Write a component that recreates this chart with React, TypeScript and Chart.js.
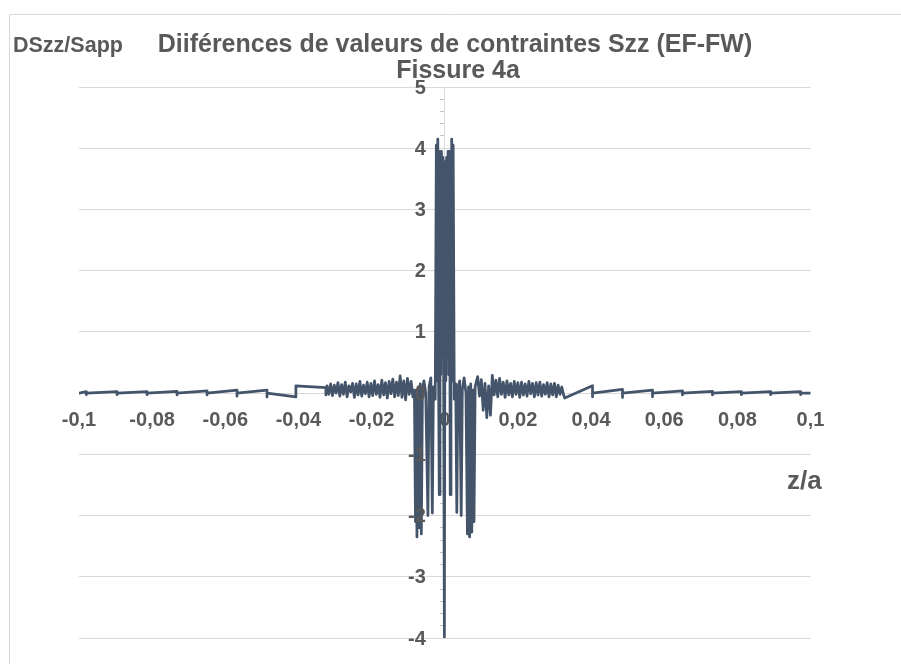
import React, { useEffect, useRef } from 'react';
import { Chart, registerables } from 'chart.js';

Chart.register(...registerables);

// ---- Data (z/a, DSzz/Sapp) ----
const leftTailZ = [-0.1, -0.098, -0.098, -0.098, -0.0896, -0.0896, -0.0896, -0.0814, -0.0814, -0.0814, -0.0732, -0.0732, -0.0732, -0.065, -0.065, -0.065, -0.0568, -0.0568, -0.0568, -0.0486, -0.0486, -0.0486, -0.0407, -0.0407, -0.0325, -0.0325];
const leftTailV = [0, 0.025, -0.025, 0, 0.025, -0.025, 0, 0.025, -0.025, 0, 0.03, -0.03, 0, 0.035, -0.03, 0, 0.05, -0.05, 0, 0.05, -0.065, 0, -0.06, 0.12, 0.09, -0.03];

const leftNoiseZ = [-0.0322, -0.0317, -0.0312, -0.0307, -0.0302, -0.0297, -0.0292, -0.0287, -0.0282, -0.0277, -0.0272, -0.0267, -0.0262, -0.0257, -0.0252, -0.0247, -0.0242, -0.0237, -0.0232, -0.0227, -0.0222, -0.0217, -0.0212, -0.0207, -0.0202, -0.0197, -0.0192, -0.0187, -0.0182, -0.0177, -0.0172, -0.0167, -0.0162, -0.0157, -0.0152, -0.0147, -0.0142, -0.0137, -0.0132, -0.0127, -0.0122, -0.0117, -0.0112, -0.0107, -0.0102, -0.0097, -0.0092, -0.0087];
const leftNoiseV = [0.12, -0.02, 0.15, -0.04, 0.13, 0.0, 0.17, -0.05, 0.14, -0.02, 0.18, -0.06, 0.12, 0.02, 0.16, -0.07, 0.15, -0.03, 0.19, -0.05, 0.13, -0.01, 0.18, -0.06, 0.16, -0.04, 0.2, -0.02, 0.14, -0.07, 0.21, -0.03, 0.17, -0.08, 0.19, -0.01, 0.23, -0.06, 0.18, -0.04, 0.28, -0.07, 0.2, -0.11, 0.24, -0.02, 0.19, -0.06];

const coreZ = [-0.0083, -0.008, -0.0078, -0.0076, -0.0073, -0.007, -0.0067, -0.0064, -0.0061, -0.0057, -0.0052, -0.0046, -0.0043, -0.0038, -0.0034, -0.0031, -0.0026, -0.0023, -0.0021, -0.0019, -0.0017, -0.0015, -0.0013, -0.0011, -0.0009, -0.0007, -0.0005, -0.0003, -0.0001, 0.0001, 0.0003, 0.0005, 0.0007, 0.0009, 0.0011, 0.0013, 0.0015, 0.0017, 0.0019, 0.0021, 0.0023, 0.0026, 0.003, 0.0033, 0.0036, 0.0041, 0.0045, 0.0048, 0.0053, 0.0058, 0.0062, 0.0065, 0.0068, 0.0071, 0.0074, 0.0077, 0.008, 0.0083, 0.0087];
const coreV = [0.05, -2.1, 0.05, -2.35, 0.1, -2.2, 0.15, -2.3, 0.05, 0.2, 0.0, -2.0, 0.1, 0.25, -1.96, 0.1, -0.1, 4.05, 0.2, 4.15, 0.4, -1.66, 3.95, 0.3, 3.95, 0.6, 3.85, 0.2, -4.0, 3.78, 0.2, 3.85, 0.6, 3.95, 0.3, 3.95, -1.66, 0.4, 4.15, 0.2, 4.05, -0.1, 0.15, -1.95, 0.1, 0.2, -2.0, 0.05, 0.25, 0.0, -2.3, 0.1, -2.35, 0.15, -2.27, 0.05, -2.1, 0.1, 0.2];

const rightNoiseZ = [0.009, 0.0095, 0.01, 0.0105, 0.011, 0.0115, 0.012, 0.0125, 0.013, 0.0135, 0.014, 0.0145, 0.015, 0.0155, 0.016, 0.0165, 0.017, 0.0175, 0.018, 0.0185, 0.019, 0.0195, 0.02, 0.0205, 0.021, 0.0215, 0.022, 0.0225, 0.023, 0.0235, 0.024, 0.0245, 0.025, 0.0255, 0.026, 0.0265, 0.027, 0.0275, 0.028, 0.0285, 0.029, 0.0295, 0.03, 0.0305, 0.031, 0.0315, 0.032, 0.0325, 0.0328];
const rightNoiseV = [0.27, -0.05, 0.22, -0.28, 0.16, -0.4, 0.12, -0.36, 0.29, -0.03, 0.21, -0.06, 0.24, -0.02, 0.18, -0.07, 0.2, -0.03, 0.16, -0.06, 0.19, -0.02, 0.17, -0.07, 0.18, -0.03, 0.15, -0.05, 0.19, -0.01, 0.16, -0.06, 0.17, -0.03, 0.18, -0.05, 0.14, -0.02, 0.17, -0.06, 0.15, -0.03, 0.16, -0.06, 0.13, -0.02, 0.1, -0.03, -0.08];

const rightTailZ = [0.0404, 0.0404, 0.0404, 0.0486, 0.0486, 0.0486, 0.0568, 0.0568, 0.0568, 0.065, 0.065, 0.065, 0.0732, 0.0732, 0.0732, 0.0811, 0.0811, 0.0811, 0.0891, 0.0891, 0.0891, 0.0973, 0.0973, 0.0973, 0.1];
const rightTailV = [0.12, -0.06, 0, 0.06, -0.07, 0, 0.05, -0.06, 0, 0.035, -0.03, 0, 0.03, -0.03, 0, 0.025, -0.025, 0, 0.025, -0.025, 0, 0.025, -0.025, 0, 0];

const xTickValues = [-0.1, -0.08, -0.06, -0.04, -0.02, 0, 0.02, 0.04, 0.06, 0.08, 0.1];
const xTickLabels = ['-0,1', '-0,08', '-0,06', '-0,04', '-0,02', '0', '0,02', '0,04', '0,06', '0,08', '0,1'];
const yTickValues = [-4, -3, -2, -1, 0, 1, 2, 3, 4, 5];
const yTickLabels = ['-4', '-3', '-2', '-1', '0', '1', '2', '3', '4', '5'];

const titleLines = ['Diiférences de valeurs de contraintes Szz (EF-FW)', 'Fissure 4a'];
const yAxisTitle = 'DSzz/Sapp';
const xAxisTitle = 'z/a';

const FONT = '"Liberation Sans", Arial, Helvetica, sans-serif';
const TEXT = '#595959';
const LINE = '#44546A';
const GRID = '#d9d9d9';

const allZ = [...leftTailZ, ...leftNoiseZ, ...coreZ, ...rightNoiseZ, ...rightTailZ];
const allV = [...leftTailV, ...leftNoiseV, ...coreV, ...rightNoiseV, ...rightTailV];

const isMajor = (v: number) => yTickValues.some((t) => Math.abs(t - v) < 1e-6);

const decorPlugin = {
  id: 'decor',
  beforeDraw(chart: any) {
    const ctx = chart.ctx;
    ctx.save();
    ctx.fillStyle = '#ffffff';
    ctx.fillRect(0, 0, chart.width, chart.height);
    ctx.strokeStyle = GRID;
    ctx.lineWidth = 1;
    ctx.beginPath();
    ctx.moveTo(9.5, chart.height);
    ctx.lineTo(9.5, 14.5);
    ctx.lineTo(chart.width, 14.5);
    ctx.stroke();
    ctx.restore();
  },
  afterDraw(chart: any) {
    const ctx = chart.ctx;
    const xs = chart.scales.x;
    const ys = chart.scales.y;
    ctx.save();
    ctx.fillStyle = TEXT;
    // y tick labels, placed left of the centred y axis
    ctx.font = `bold 20px ${FONT}`;
    ctx.textAlign = 'right';
    ctx.textBaseline = 'middle';
    const axisX = xs.getPixelForValue(0);
    yTickValues.forEach((v, i) => {
      ctx.fillText(yTickLabels[i], axisX - 19, ys.getPixelForValue(v) + 1);
    });
    // titles
    ctx.textBaseline = 'alphabetic';
    ctx.textAlign = 'center';
    ctx.font = `bold 25px ${FONT}`;
    ctx.fillText(titleLines[0], 455, 52);
    ctx.fillText(titleLines[1], 458, 78);
    ctx.textAlign = 'left';
    ctx.font = `bold 21.5px ${FONT}`;
    ctx.fillText(yAxisTitle, 13, 52);
    ctx.font = `bold 26px ${FONT}`;
    ctx.fillText(xAxisTitle, 787, 489);
    ctx.restore();
  },
};

export default function App() {
  const ref = useRef<HTMLCanvasElement | null>(null);
  useEffect(() => {
    if (!ref.current) return;
    const chart = new Chart(ref.current, {
      type: 'line',
      data: {
        datasets: [
          {
            data: allZ.map((z, i) => ({ x: z, y: allV[i] })),
            borderColor: LINE,
            backgroundColor: LINE,
            borderWidth: 2.75,
            borderJoinStyle: 'round',
            borderCapStyle: 'round',
            pointRadius: 0,
            tension: 0,
            fill: false,
          },
        ],
      },
      options: {
        animation: false,
        responsive: false,
        devicePixelRatio: 1,
        parsing: false as any,
        layout: { padding: { left: 79, top: 87, right: 90.5, bottom: 26 } },
        plugins: { legend: { display: false }, title: { display: false }, tooltip: { enabled: false } },
        scales: {
          x: {
            type: 'linear',
            position: { y: 0 } as any,
            min: -0.1,
            max: 0.1,
            afterBuildTicks: (scale: any) => {
              scale.ticks = xTickValues.map((value) => ({ value }));
            },
            ticks: {
              autoSkip: false,
              maxRotation: 0,
              padding: 15,
              color: TEXT,
              font: { family: FONT, size: 20, weight: 'bold' },
              callback: (_v: any, i: number) => xTickLabels[i],
            },
            grid: { drawOnChartArea: false, drawTicks: false },
            border: { display: true, color: GRID, width: 1 },
          },
          y: {
            type: 'linear',
            position: { x: 0 } as any,
            min: -4,
            max: 5,
            ticks: {
              stepSize: 0.2,
              autoSkip: false,
              display: false,
            },
            grid: {
              drawOnChartArea: true,
              drawTicks: true,
              tickLength: 4,
              color: (c: any) => (c.tick && isMajor(c.tick.value) ? GRID : 'rgba(0,0,0,0)'),
              tickColor: (c: any) => (c.tick && !isMajor(c.tick.value) ? '#bfbfbf' : 'rgba(0,0,0,0)'),
            },
            border: { display: true, color: GRID, width: 1 },
          },
        },
      },
      plugins: [decorPlugin],
    });
    return () => chart.destroy();
  }, []);
  return (
    <div style={{ position: 'absolute', left: 0, top: 0, width: 901, height: 664 }}>
      <canvas ref={ref} width={901} height={664} style={{ display: 'block' }} />
    </div>
  );
}
